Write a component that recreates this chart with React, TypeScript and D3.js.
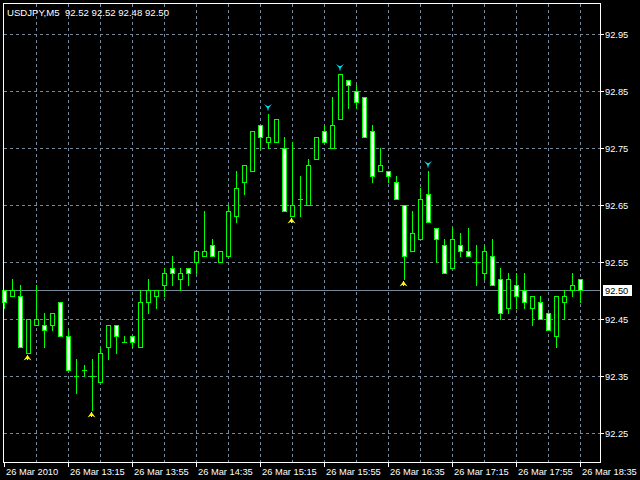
import React from 'react';
import * as d3 from 'd3';

const symbolTitle = 'USDJPY,M5  92.52 92.52 92.48 92.50';
const startTime = new Date(2010, 2, 26, 12, 35);
const barMinutes = 5;

const opens = [92.50, 92.49, 92.49, 92.39, 92.44, 92.44, 92.44, 92.48, 92.42, 92.35, 92.36, 92.35, 92.34, 92.40, 92.44, 92.41, 92.42, 92.40, 92.48, 92.49, 92.51, 92.54, 92.52, 92.54, 92.55, 92.56, 92.58, 92.55, 92.56, 92.63, 92.69, 92.71, 92.79, 92.76, 92.76, 92.75, 92.63, 92.66, 92.65, 92.73, 92.78, 92.75, 92.80, 92.87, 92.85, 92.84, 92.78, 92.71, 92.71, 92.69, 92.65, 92.57, 92.59, 92.67, 92.61, 92.58, 92.54, 92.58, 92.57, 92.55, 92.53, 92.56, 92.52, 92.47, 92.51, 92.50, 92.47, 92.48, 92.46, 92.42, 92.48, 92.50, 92.52];
const highs = [92.50, 92.52, 92.51, 92.45, 92.51, 92.46, 92.46, 92.48, 92.43, 92.38, 92.37, 92.38, 92.40, 92.44, 92.44, 92.42, 92.42, 92.50, 92.52, 92.50, 92.54, 92.56, 92.54, 92.54, 92.57, 92.64, 92.59, 92.57, 92.65, 92.71, 92.72, 92.78, 92.79, 92.81, 92.80, 92.77, 92.76, 92.70, 92.73, 92.77, 92.79, 92.84, 92.88, 92.87, 92.86, 92.84, 92.79, 92.75, 92.71, 92.70, 92.65, 92.64, 92.68, 92.71, 92.61, 92.59, 92.61, 92.60, 92.61, 92.58, 92.58, 92.59, 92.54, 92.53, 92.53, 92.53, 92.49, 92.49, 92.46, 92.49, 92.50, 92.53, 92.52];
const lows = [92.47, 92.49, 92.40, 92.39, 92.44, 92.40, 92.43, 92.42, 92.36, 92.32, 92.35, 92.29, 92.34, 92.38, 92.39, 92.41, 92.40, 92.40, 92.46, 92.47, 92.49, 92.51, 92.50, 92.51, 92.53, 92.56, 92.56, 92.55, 92.56, 92.62, 92.67, 92.71, 92.75, 92.75, 92.76, 92.64, 92.63, 92.63, 92.65, 92.73, 92.76, 92.75, 92.80, 92.82, 92.82, 92.77, 92.69, 92.71, 92.69, 92.66, 92.52, 92.57, 92.59, 92.62, 92.55, 92.53, 92.54, 92.56, 92.56, 92.51, 92.52, 92.51, 92.45, 92.46, 92.47, 92.47, 92.44, 92.45, 92.43, 92.40, 92.45, 92.49, 92.48];
const closes = [92.48, 92.50, 92.40, 92.45, 92.45, 92.43, 92.46, 92.42, 92.36, 92.35, 92.36, 92.35, 92.39, 92.44, 92.42, 92.41, 92.41, 92.48, 92.50, 92.50, 92.53, 92.53, 92.53, 92.53, 92.57, 92.57, 92.56, 92.57, 92.64, 92.68, 92.72, 92.78, 92.77, 92.77, 92.80, 92.64, 92.65, 92.66, 92.72, 92.77, 92.76, 92.79, 92.88, 92.86, 92.83, 92.77, 92.70, 92.72, 92.70, 92.66, 92.56, 92.60, 92.66, 92.62, 92.59, 92.53, 92.59, 92.57, 92.56, 92.55, 92.57, 92.51, 92.46, 92.52, 92.49, 92.48, 92.49, 92.45, 92.43, 92.49, 92.49, 92.51, 92.50];

const priceTicks = [92.25, 92.35, 92.45, 92.55, 92.65, 92.75, 92.85, 92.95];
const lastPrice = 92.50;
const upSignals = [3, 11, 36, 50];
const downSignals = [33, 42, 53];

const GRID = '#778899';
const BAR = '#00ff00';
const FONT = '"Liberation Sans", Arial, sans-serif';

export default function App() {
  const n = opens.length;
  const times = opens.map((_, i) => new Date(startTime.getTime() + i * barMinutes * 60000));
  const x = d3.scaleTime().domain([times[0], times[n - 1]]).range([4, 580]);
  const y = d3.scaleLinear().domain([92.25, 92.95]).range([433, 34]);
  const row = (p: number) => Math.round(y(p) - 0.001);
  const col = (i: number) => Math.round(x(times[i]));
  const fmt = d3.timeFormat('%d Mar %H:%M');

  const gridCols = d3.range(4, n, 4);
  const labelIdx = d3.range(0, n, 8);

  return (
    <svg width={640} height={480} style={{ position: 'fixed', left: 0, top: 0, display: 'block', background: '#000' }}
      shapeRendering="crispEdges">
      <rect x={0} y={0} width={640} height={480} fill="#000" />
      {priceTicks.map((p) => (
        <line key={'hg' + p} x1={4} x2={600} y1={row(p) + 0.5} y2={row(p) + 0.5} stroke={GRID} strokeDasharray="3,3" />
      ))}
      {gridCols.map((i) => (
        <line key={'vg' + i} x1={col(i) + 0.5} x2={col(i) + 0.5} y1={4} y2={462} stroke={GRID} strokeDasharray="3,3" />
      ))}
      <line x1={4} x2={600} y1={row(lastPrice) + 0.5} y2={row(lastPrice) + 0.5} stroke={GRID} />
      {opens.map((o, i) => {
        const c = closes[i];
        const cx = col(i) + 0.5;
        const hi = row(highs[i]);
        const lo = row(lows[i]);
        const top = row(Math.max(o, c));
        const bot = row(Math.min(o, c));
        return (
          <g key={'c' + i}>
            <line x1={cx} x2={cx} y1={hi} y2={lo + 1} stroke={BAR} />
            {o === c ? (
              <line x1={cx - 2.5} x2={cx + 2.5} y1={top + 0.5} y2={top + 0.5} stroke={BAR} />
            ) : (
              <rect x={cx - 2} y={top + 0.5} width={4} height={bot - top} fill={c < o ? '#fff' : '#000'} stroke={BAR} />
            )}
          </g>
        );
      })}
      {upSignals.map((i) => {
        const cx = col(i) - 0.5;
        const t = row(lows[i]) + 2;
        return (
          <g key={'u' + i} shapeRendering="auto">
            <path d={`M${cx},${t} L${cx + 4},${t + 5.5} L${cx},${t + 3.5} L${cx - 4},${t + 5.5} Z`} fill="#ffff00" />
            <line x1={cx} x2={cx} y1={t} y2={t + 5} stroke="#ffff00" />
          </g>
        );
      })}
      {downSignals.map((i) => {
        const cx = col(i);
        const t = row(highs[i]) - 10;
        return (
          <g key={'d' + i} shapeRendering="auto">
            <path d={`M${cx - 4},${t} L${cx},${t + 2.5} L${cx + 4},${t} L${cx},${t + 5} Z`} fill="#00e5ff" />
            <line x1={cx} x2={cx} y1={t + 2} y2={t + 6.5} stroke="#00e5ff" />
          </g>
        );
      })}
      <rect x={3.5} y={3.5} width={597} height={459} fill="none" stroke="#fff" />
      {priceTicks.map((p) => (
        <g key={'pt' + p}>
          <line x1={601} x2={604} y1={row(p) + 0.5} y2={row(p) + 0.5} stroke="#fff" />
          <text x={605} y={row(p) + 4} fill="#fff" fontFamily={FONT} fontSize={9.3}>{p.toFixed(2)}</text>
        </g>
      ))}
      <rect x={603} y={row(lastPrice) - 5} width={29} height={11} fill="#fff" />
      <text x={605} y={row(lastPrice) + 4} fill="#000" fontFamily={FONT} fontSize={9.3}>{lastPrice.toFixed(2)}</text>
      {labelIdx.map((i) => (
        <g key={'bl' + i}>
          <line x1={col(i) + 0.5} x2={col(i) + 0.5} y1={463} y2={467} stroke="#fff" />
          <text x={col(i) + 2} y={475} fill="#fff" fontFamily={FONT} fontSize={9.3}>
            {i === 0 ? '26 Mar 2010' : fmt(times[i])}
          </text>
        </g>
      ))}
      <text x={7} y={16} fill="#fff" fontFamily={FONT} fontSize={9.6} style={{ whiteSpace: 'pre' }}>{symbolTitle}</text>
    </svg>
  );
}
